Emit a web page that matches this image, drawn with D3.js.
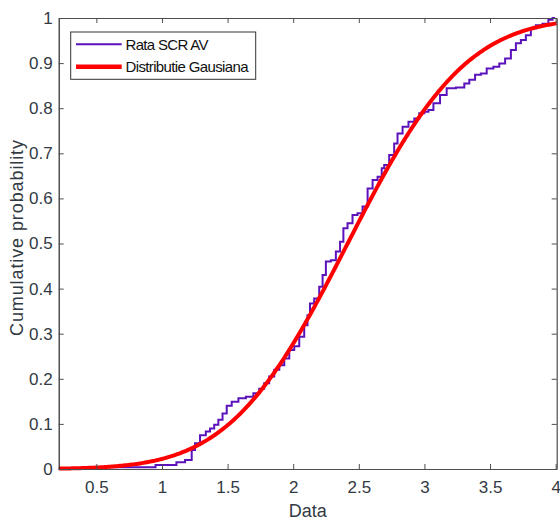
<!DOCTYPE html>
<html><head><meta charset="utf-8">
<script src="https://cdn.jsdelivr.net/npm/d3@7"></script>
<style>body{margin:0;background:#fff;} svg{display:block;font-family:"Liberation Sans",Arial,sans-serif;}</style>
</head><body>
<script>
const ecdfX = [0.213,0.820,1.082,1.138,1.214,1.239,1.265,1.315,1.353,1.379,1.417,1.442,1.481,1.506,1.557,1.608,1.671,1.722,1.760,1.798,1.836,1.875,1.913,1.951,1.989,2.027,2.065,2.103,2.115,2.141,2.179,2.218,2.230,2.268,2.306,2.344,2.370,2.395,2.433,2.471,2.509,2.548,2.586,2.624,2.662,2.687,2.700,2.763,2.776,2.814,2.853,2.904,2.942,2.980,3.018,3.043,3.094,3.144,3.195,3.285,3.323,3.361,3.411,3.449,3.500,3.551,3.590,3.640,3.678,3.716,3.754,3.792,3.830,3.868,3.932,3.957,3.996];
const ecdfP = [0,0.004,0.009,0.015,0.020,0.042,0.057,0.075,0.083,0.090,0.098,0.109,0.123,0.140,0.149,0.157,0.160,0.168,0.178,0.190,0.205,0.220,0.230,0.245,0.264,0.272,0.293,0.319,0.341,0.367,0.378,0.404,0.430,0.460,0.463,0.482,0.504,0.534,0.545,0.563,0.567,0.582,0.622,0.641,0.648,0.667,0.674,0.696,0.722,0.744,0.759,0.770,0.777,0.789,0.792,0.796,0.811,0.829,0.844,0.846,0.855,0.863,0.874,0.877,0.888,0.892,0.899,0.910,0.929,0.944,0.951,0.962,0.977,0.984,0.987,0.996,1.0];
// Gaussian fit parameters
const gaussMean = 2.415;
const gaussSd = 0.705;
const xTicks = [0.5,1,1.5,2,2.5,3,3.5,4];
const yTicks = [0,0.1,0.2,0.3,0.4,0.5,0.6,0.7,0.8,0.9,1];
const seriesNames = ["Rata SCR AV","Distributie Gausiana"];

const W=560,H=521;
const L=58.7,R=556.7,T=18,B=469;
const svg=d3.select("body").append("svg").attr("width",W).attr("height",H);
const x=d3.scaleLinear().domain([0.213,4.008]).range([L,R]);
const y=d3.scaleLinear().domain([0,1]).range([B,T]);

function erf(z){const t=1/(1+0.3275911*Math.abs(z));const yv=1-(((((1.061405429*t-1.453152027)*t)+1.421413741)*t-0.284496736)*t+0.254829592)*t*Math.exp(-z*z);return z>=0?yv:-yv;}
const ncdf=v=>0.5*(1+erf((v-gaussMean)/(gaussSd*Math.SQRT2)));

svg.append("clipPath").attr("id","clip").append("rect").attr("x",L).attr("y",T-2).attr("width",R-L+2).attr("height",B-T+4);

const ecdf=ecdfX.map((v,i)=>[v,ecdfP[i]]);
svg.append("path").datum(ecdf).attr("fill","none").attr("stroke","#5b12bb").attr("stroke-width",2)
  .attr("d",d3.line().x(d=>x(d[0])).y(d=>y(d[1])).curve(d3.curveStep));

const gx=d3.range(0,301).map(i=>0.213+i*(4.008-0.213)/300);
svg.append("path").datum(gx).attr("fill","none").attr("stroke","#ff0000").attr("stroke-width",4)
  .attr("clip-path","url(#clip)")
  .attr("d",d3.line().x(d=>x(d)).y(d=>y(ncdf(d))));

const axCol="#4d4d4d", txtCol="#333a44";
const gB=svg.append("g").attr("transform",`translate(0,${B})`).call(d3.axisBottom(x).tickValues(xTicks).tickSizeInner(-5).tickSizeOuter(0).tickPadding(12).tickFormat(d3.format("")));
const gT=svg.append("g").attr("transform",`translate(0,${T})`).call(d3.axisTop(x).tickValues(xTicks).tickSizeInner(-5).tickSizeOuter(0).tickFormat(""));
const gL=svg.append("g").attr("transform",`translate(${L},0)`).call(d3.axisLeft(y).tickValues(yTicks).tickSizeInner(-5).tickSizeOuter(0).tickPadding(6).tickFormat(d3.format("")));
const gR=svg.append("g").attr("transform",`translate(${R},0)`).call(d3.axisRight(y).tickValues(yTicks).tickSizeInner(-5).tickSizeOuter(0).tickFormat(""));
[gB,gT,gL,gR].forEach(g=>{g.select(".domain").attr("stroke",axCol).attr("stroke-width",1.2);g.selectAll(".tick line").attr("stroke",axCol);g.selectAll("text").attr("fill",txtCol).style("font-size","17px").style("font-family","'Liberation Sans',Arial,sans-serif");});
gL.select(".domain").attr("stroke","#262626");
gB.selectAll("text").attr("dy","0.71em");

svg.append("text").attr("x",(L+R)/2).attr("y",517).attr("text-anchor","middle").attr("fill",txtCol).style("font-size","18px").text("Data");
svg.append("text").attr("transform",`translate(23,238) rotate(-90)`).attr("text-anchor","middle").attr("fill",txtCol).style("font-size","18px").attr("textLength",196).text("Cumulative probability");

const lg=svg.append("g");
lg.append("rect").attr("x",70.7).attr("y",32).attr("width",185).attr("height",47.3).attr("fill","#fff").attr("stroke","#333").attr("stroke-width",1);
const cols=["#5b12bb","#ff0000"],wids=[2,4.5],ly=[44.3,66.7];
seriesNames.forEach((n,i)=>{
  lg.append("line").attr("x1",76).attr("x2",121.7).attr("y1",ly[i]).attr("y2",ly[i]).attr("stroke",cols[i]).attr("stroke-width",wids[i]);
  lg.append("text").attr("x",125.5).attr("y",ly[i]+5.5).attr("fill","#111").style("font-size","15px").attr("textLength",i?123:83).text(n);
});
</script>
</body></html>
